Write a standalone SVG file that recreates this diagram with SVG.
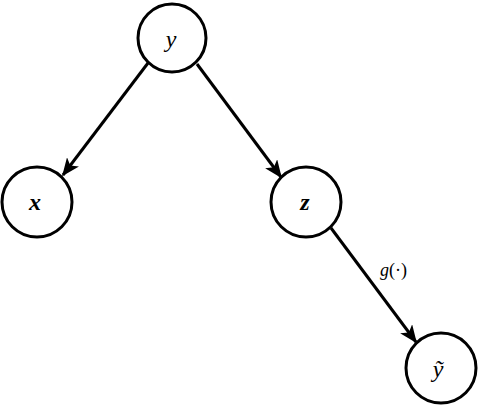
<svg xmlns="http://www.w3.org/2000/svg" width="478" height="406" viewBox="0 0 478 406">
<style>
.node circle{fill:#fff;stroke:#000;stroke-width:3}
.lbl{font-family:"Liberation Serif","DejaVu Serif",serif;font-style:italic;font-size:24px;text-anchor:middle;fill:#000}
.b{font-weight:bold}
.edge{stroke:#000;stroke-width:3;fill:none;marker-end:url(#ah)}
.el{font-family:"Liberation Serif","DejaVu Serif",serif;font-size:18px;fill:#000}
</style>
<defs>
<marker id="ah" viewBox="0 0 12 10" refX="11" refY="5" markerWidth="6" markerHeight="5" orient="auto" markerUnits="strokeWidth">
<path d="M0,0 L12,5 L0,10 L3,5 z" fill="#000"/>
</marker>
</defs>
<rect width="478" height="406" fill="#fff"/>
<g id="connectors">
<line class="edge" x1="148" y1="63" x2="63" y2="175"/>
<line class="edge" x1="197" y1="64" x2="281" y2="177"/>
<line class="edge" x1="331" y1="228" x2="416" y2="342"/>
<text class="el" x="380" y="276"><tspan font-style="italic">g</tspan>(·)</text>
</g>
<g id="node-y" class="node">
<circle cx="172" cy="38" r="34"/>
<text class="lbl" x="171" y="47">y</text>
</g>
<g id="node-x" class="node">
<circle cx="37" cy="202" r="35"/>
<text class="lbl b" x="35" y="210">x</text>
</g>
<g id="node-z" class="node">
<circle cx="306" cy="202" r="35"/>
<text class="lbl b" x="305" y="210">z</text>
</g>
<g id="node-yt" class="node">
<circle cx="441" cy="368" r="35"/>
<text class="lbl" x="438" y="377">ỹ</text>
</g>
</svg>
